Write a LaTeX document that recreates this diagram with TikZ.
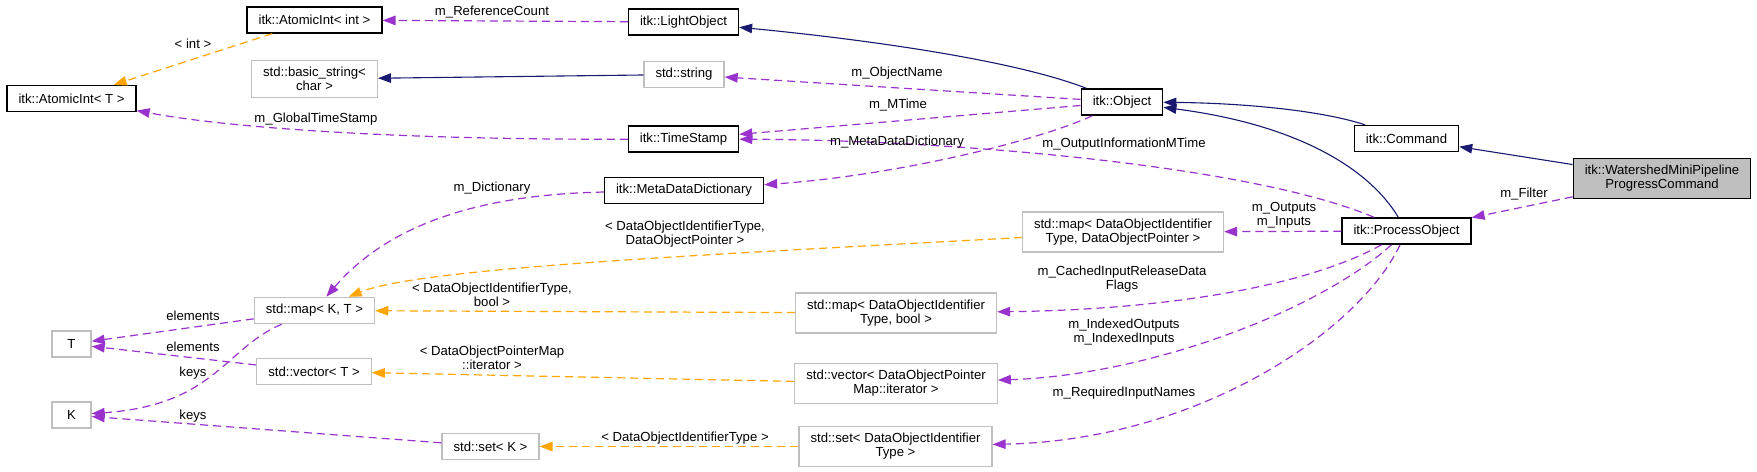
\documentclass[tikz,border=0pt]{standalone}
\usepackage{fontspec}
\usepackage{xcolor}
\usepackage{tikz}
\usetikzlibrary{arrows.meta}
\setmainfont{Liberation Sans}
\definecolor{dxnavy}{HTML}{191970}
\definecolor{dxorchid}{HTML}{9A32CD}
\definecolor{dxorange}{HTML}{FFA500}
\definecolor{dxgrey}{HTML}{BFBFBF}

\begin{document}
\begin{tikzpicture}[
  x=1bp, y=-1bp,
  every node/.style={align=center, font=\fontsize{13.2}{14}\selectfont},
  cls/.style={rectangle, draw=black, line width=1.3bp, fill=white, inner xsep=11.5bp,
              inner ysep=7bp, minimum width=39bp, minimum height=26bp},
  ext/.style={cls, draw=dxgrey},
  self/.style={cls, fill=dxgrey},
  lbl/.style={inner sep=0pt},
  inh/.style={-{Triangle[length=13bp, width=9.5bp]}, draw=dxnavy, line width=1.1bp},
  use/.style={-{Triangle[length=13bp, width=9.5bp]}, draw=dxorchid, line width=1.2bp,
              dash pattern=on 8bp off 5bp},
  tpl/.style={use, draw=dxorange}
]
\useasboundingbox (0,0) rectangle (1757,472);

\node[cls]  (aint)     at (314.5,20)  {itk::AtomicInt< int >};
\node[cls]  (light)    at (683.5,22)  {itk::LightObject};
\node[cls]  (aintT)    at (71.5,98.5) {itk::AtomicInt< T >};
\node[ext]  (bstr)     at (314.5,79)  {std::basic\_string<\\char >};
\node[ext]  (str)      at (684,74.5)  {std::string};
\node[cls]  (object)   at (1122,102)  {itk::Object};
\node[cls]  (tstamp)   at (683.5,139) {itk::TimeStamp};
\node[cls]  (command)  at (1406.5,138.5) {itk::Command};
\node[self] (watershed) at (1662,178.5) {itk::WatershedMiniPipeline\\ProgressCommand};
\node[cls]  (mdd)      at (684,190.5) {itk::MetaDataDictionary};
\node[ext]  (mapdop)   at (1123,232)  {std::map< DataObjectIdentifier\\Type, DataObjectPointer >};
\node[cls]  (process)  at (1406.5,231) {itk::ProcessObject};
\node[ext]  (mapKT)    at (314.5,310.5) {std::map< K, T >};
\node[ext]  (T)        at (71.5,344)  {T};
\node[ext]  (mapbool)  at (896,313)   {std::map< DataObjectIdentifier\\Type, bool >};
\node[ext]  (vecT)     at (314,371.5) {std::vector< T >};
\node[ext]  (K)        at (71.5,415)  {K};
\node[ext]  (vecdop)   at (896,383.5) {std::vector< DataObjectPointer\\Map::iterator >};
\node[ext]  (setK)     at (490.5,446.5) {std::set< K >};
\node[ext]  (setdoi)   at (895.5,446.5) {std::set< DataObjectIdentifier\\Type >};

\draw[inh] (object) .. controls (1000,55) and (820,35) .. (light);
\draw[inh] (str) -- (bstr);
\draw[inh] (command) .. controls (1320,110) and (1240,103) .. (object);
\draw[inh] (process) .. controls (1370,170) and (1300,125) .. (object);
\draw[inh] (watershed) -- (command);

\draw[use] (light) -- (aint);
\draw[use] (object) -- (str);
\draw[use] (object) -- (tstamp);
\draw[use] (tstamp) .. controls (400,140) and (230,128) .. (aintT);
\draw[use] (process) .. controls (1250,165) and (950,140) .. (tstamp);
\draw[use] (object) .. controls (1040,140) and (900,175) .. (mdd);
\draw[use] (mdd) .. controls (450,195) and (375,240) .. (mapKT);
\draw[use] (process) -- (mapdop);
\draw[use] (watershed) -- (process);
\draw[use] (process) .. controls (1300,290) and (1150,310) .. (mapbool);
\draw[use] (process) .. controls (1320,310) and (1150,375) .. (vecdop);
\draw[use] (process) .. controls (1360,330) and (1200,440) .. (setdoi);
\draw[use] (mapKT) -- (T);
\draw[use] (mapKT) .. controls (225,348) and (215,405) .. (K);
\draw[use] (vecT) -- (T);
\draw[use] (setK) -- (K);

\draw[tpl] (aint) -- (aintT);
\draw[tpl] (mapdop) .. controls (700,255) and (420,268) .. (mapKT);
\draw[tpl] (mapbool) -- (mapKT);
\draw[tpl] (vecdop) -- (vecT);
\draw[tpl] (setdoi) -- (setK);

\node[lbl] (lRefCount) at (492,12)   {m\_ReferenceCount};
\node[lbl] (lInt)      at (193,44)   {< int >};
\node[lbl] (lObjName)  at (897,73)   {m\_ObjectName};
\node[lbl] (lMTime)    at (898,105)  {m\_MTime};
\node[lbl] (lGlobal)   at (316,119)  {m\_GlobalTimeStamp};
\node[lbl] (lMDD)      at (897,142)  {m\_MetaDataDictionary};
\node[lbl] (lOutInfo)  at (1124,144) {m\_OutputInformationMTime};
\node[lbl] (lFilter)   at (1524,194) {m\_Filter};
\node[lbl] (lDict)     at (492,188)  {m\_Dictionary};
\node[lbl] (lOutputs)  at (1284,215) {m\_Outputs\\m\_Inputs};
\node[lbl] (lDopTpl)   at (685,234)  {< DataObjectIdentifierType,\\DataObjectPointer >};
\node[lbl] (lCached)   at (1122,279) {m\_CachedInputReleaseData\\Flags};
\node[lbl] (lBoolTpl)  at (492,295)  {< DataObjectIdentifierType,\\bool >};
\node[lbl] (lElemA)    at (193,316)  {elements};
\node[lbl] (lElemB)    at (193,347)  {elements};
\node[lbl] (lIdx)      at (1124,332) {m\_IndexedOutputs\\m\_IndexedInputs};
\node[lbl] (lIterTpl)  at (492,358)  {< DataObjectPointerMap\\::iterator >};
\node[lbl] (lKeysA)    at (193,373)  {keys};
\node[lbl] (lReq)      at (1124,393) {m\_RequiredInputNames};
\node[lbl] (lKeysB)    at (193,416)  {keys};
\node[lbl] (lSetTpl)   at (685,438)  {< DataObjectIdentifierType >};
\end{tikzpicture}
\end{document}
